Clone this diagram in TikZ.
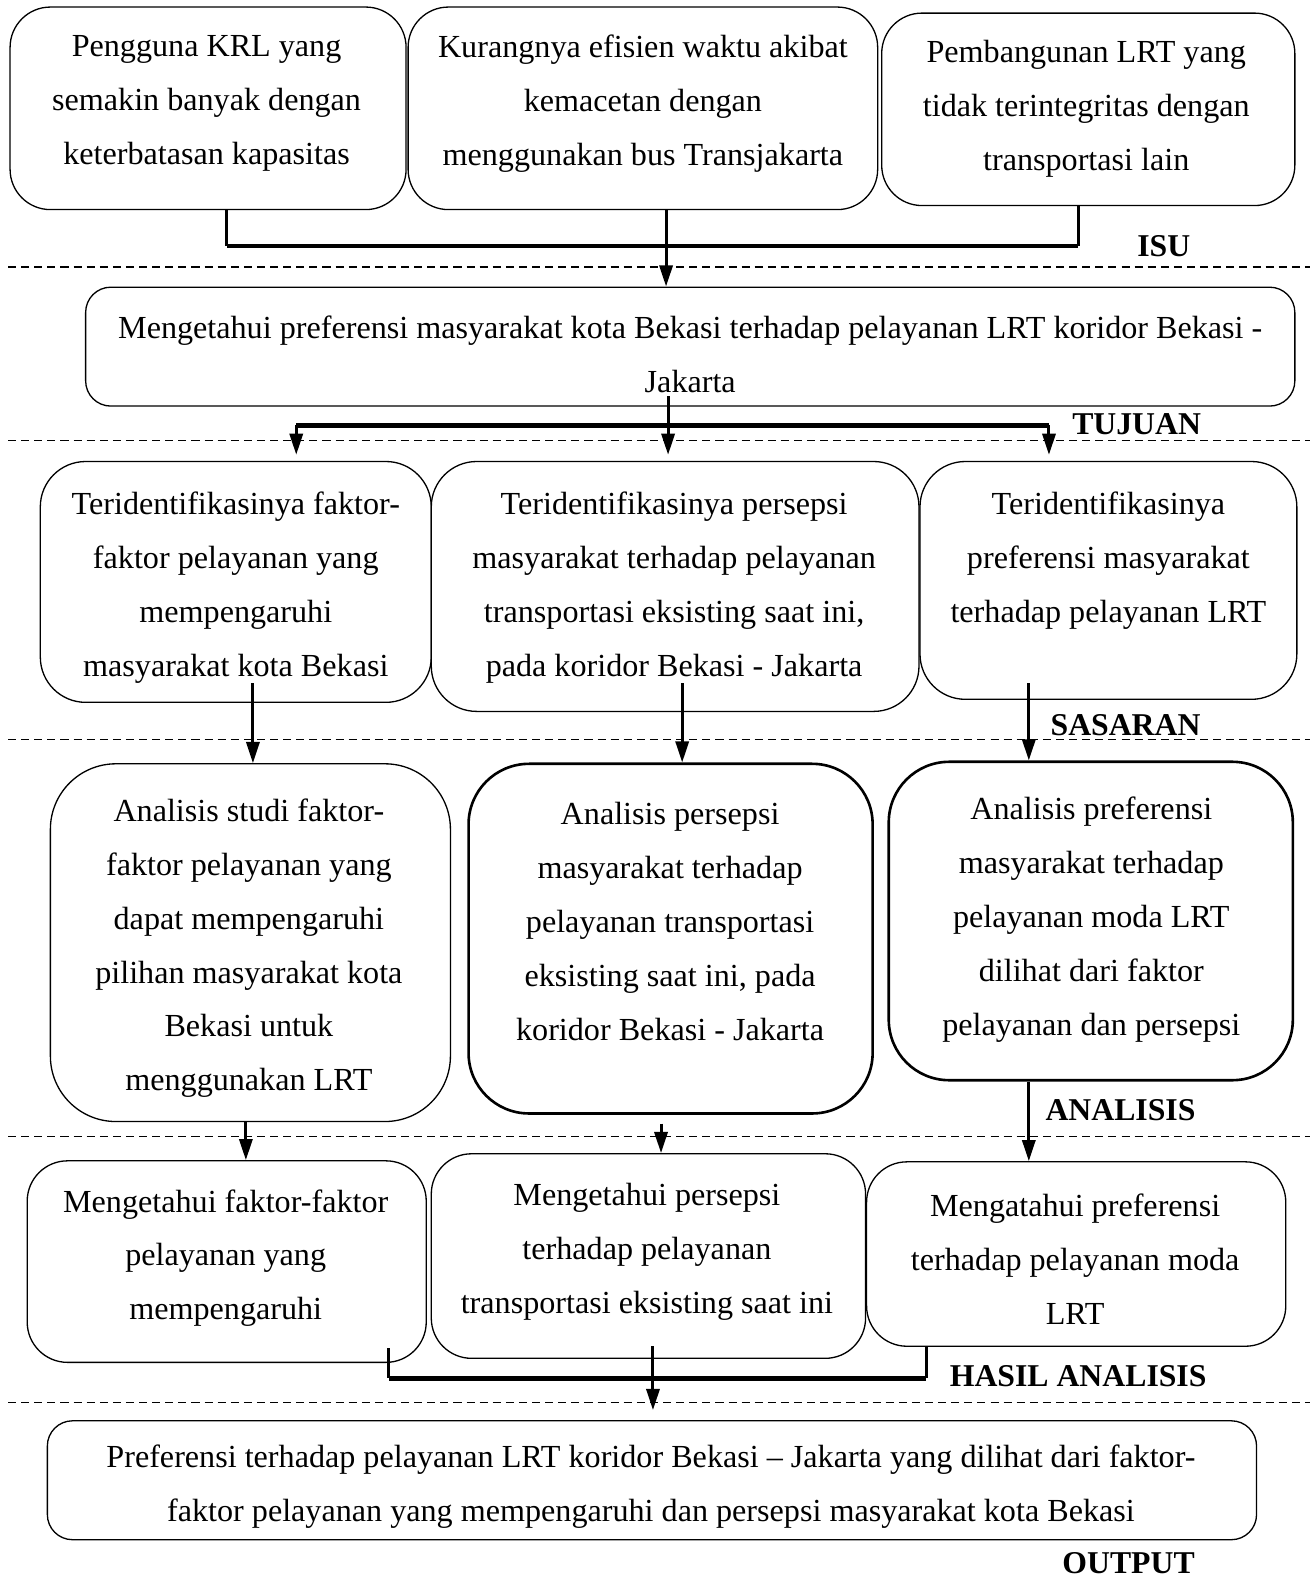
\documentclass[tikz,border=0pt]{standalone}
\usepackage{fontspec}
\setmainfont{Liberation Serif}
\usetikzlibrary{arrows.meta,calc}
\begin{document}
\begin{tikzpicture}[x=1pt,y=-1pt,
 box/.style={draw, line width=1.3pt, rounded corners=#1, inner sep=0pt},
 box/.default=40pt,
 heavybox/.style={box=#1, line width=2.6pt},
 heavybox/.default=60pt,
 txt/.style={align=center, font=\fontsize{31.9}{53.5}\selectfont, inner sep=0pt, yshift=-3pt},
 lab/.style={font=\fontsize{31.5}{36}\selectfont\bfseries, inner sep=0pt},
 conn/.style={line width=3pt, line join=miter},
 bar/.style={line width=4.5pt},
 arr/.style={line width=3pt, -{Triangle[length=21pt,width=13pt]}},
 sep/.style={line width=1.5pt, dash pattern=on 8pt off 5pt}]
\useasboundingbox (0,0) rectangle (1302,1568);

% separators
\draw[sep] (8,265) -- (1300,265);
\draw[sep] (8,437) -- (1300,437);
\draw[sep] (8,734) -- (1300,734);
\draw[sep] (8,1128) -- (1300,1128);
\draw[sep] (8,1392) -- (1300,1392);

% row A
\node[box, minimum width=393pt, minimum height=201pt] (a1) at (206.5,107.5) {};
\node[box, minimum width=466pt, minimum height=201pt] (a2) at (638,107.5) {};
\node[box, minimum width=410pt, minimum height=191pt] (a3) at (1080,108.5) {};
\node[txt] (ta1) at (205,99.5) {Pengguna KRL yang\\semakin banyak dengan\\keterbatasan kapasitas};
\node[txt] (ta2) at (638,99.5) {Kurangnya efisien waktu akibat\\kemacetan dengan\\menggunakan bus Transjakarta};
\node[txt] (ta3) at (1078,105) {Pembangunan LRT yang\\tidak terintegritas dengan\\transportasi lain};

% B
\node[box=25pt, minimum width=1200pt, minimum height=118pt] (b) at (685,344) {};
\node[txt] (tb) at (685,348.5) {Mengetahui preferensi masyarakat kota Bekasi terhadap pelayanan LRT koridor Bekasi -\\Jakarta};

% row C
\node[box=45pt, minimum width=388pt, minimum height=239pt] (c1) at (234,577.5) {};
\node[box=45pt, minimum width=484pt, minimum height=248pt] (c2) at (670,582) {};
\node[box=45pt, minimum width=374pt, minimum height=236pt] (c3) at (1100,576) {};
\node[txt] (tc1) at (234,580) {Teridentifikasinya faktor-\\faktor pelayanan yang\\mempengaruhi\\masyarakat kota Bekasi};
\node[txt] (tc2) at (669,580) {Teridentifikasinya persepsi\\masyarakat terhadap pelayanan\\transportasi eksisting saat ini,\\pada koridor Bekasi - Jakarta};
\node[txt] (tc3) at (1100,553.5) {Teridentifikasinya\\preferensi masyarakat\\terhadap pelayanan LRT};

% row D
\node[box=65pt, minimum width=397pt, minimum height=355pt] (d1) at (248.5,935.5) {};
\node[heavybox, minimum width=401pt, minimum height=347pt] (d2) at (665.5,931.5) {};
\node[heavybox, minimum width=401pt, minimum height=316pt] (d3) at (1082.5,914) {};
\node[txt] (td1) at (247,938) {Analisis studi faktor-\\faktor pelayanan yang\\dapat mempengaruhi\\pilihan masyarakat kota\\Bekasi untuk\\menggunakan LRT};
\node[txt] (td2) at (665,911.5) {Analisis persepsi\\masyarakat terhadap\\pelayanan transportasi\\eksisting saat ini, pada\\koridor Bekasi - Jakarta};
\node[txt] (td3) at (1083,909.5) {Analisis preferensi\\masyarakat terhadap\\pelayanan moda LRT\\dilihat dari faktor\\pelayanan dan persepsi};

% row E
\node[box, minimum width=396pt, minimum height=200pt] (e1) at (225,1252) {};
\node[box, minimum width=431pt, minimum height=203pt] (e2) at (643.5,1246.5) {};
\node[box, minimum width=416pt, minimum height=183pt] (e3) at (1068,1244.5) {};
\node[txt] (te1) at (224,1245.5) {Mengetahui faktor-faktor\\pelayanan yang\\mempengaruhi};
\node[txt] (te2) at (642,1239) {Mengetahui persepsi\\terhadap pelayanan\\transportasi eksisting saat ini};
\node[txt] (te3) at (1067,1246.5) {Mengatahui preferensi\\terhadap pelayanan moda\\LRT};

% F
\node[box=25pt, minimum width=1200pt, minimum height=118pt] (f) at (647,1469) {};
\node[txt] (tf) at (646,1472) {Preferensi terhadap pelayanan LRT koridor Bekasi -- Jakarta yang dilihat dari faktor-\\faktor pelayanan yang mempengaruhi dan persepsi masyarakat kota Bekasi};

% labels
\node[lab] (lisu) at (1155,244) {ISU};
\node[lab] (ltuj) at (1128,421) {TUJUAN};
\node[lab] (lsas) at (1117,720) {SASARAN};
\node[lab] (lana) at (1112,1102) {ANALISIS};
\node[lab] (lhas) at (1070,1366) {HASIL ANALISIS};
\node[lab] (lout) at (1120,1551) {OUTPUT};

% connectors A -> B
\coordinate (j1) at (225,244);
\coordinate (j3) at (1070,244);
\coordinate (k2) at (661,0);
\draw[conn] (a1.south -| j1) -- (j1);
\draw[conn] (a3.south -| j3) -- (j3);
\draw[bar] (j1) -- (j3);
\draw[arr] (a2.south -| k2) -- (b.north -| k2);

% B -> C
\coordinate (bs) at (663,393);
\coordinate (tl) at (294,422);
\coordinate (tr) at (1041,422);
\draw[arr, shorten >=6pt] (bs) -- (c2.north -| bs);
\draw[bar] (tl) -- (tr);
\draw[arr, shorten >=6pt] (tl) -- (c1.north -| tl);
\draw[arr, shorten >=6pt] (tr) -- (c3.north -| tr);

% C -> D
\coordinate (cs1) at (251,678);
\coordinate (cs2) at (677,678);
\coordinate (cs3) at (1021,678);
\draw[arr] (cs1) -- (d1.north -| cs1);
\draw[arr] (cs2) -- (d2.north -| cs2);
\draw[arr] (cs3) -- (d3.north -| cs3);

% D -> E
\coordinate (ds1) at (244,0);
\coordinate (ds2) at (656,1115);
\coordinate (ds3) at (1021,0);
\draw[arr] (d1.south -| ds1) -- (e1.north -| ds1);
\draw[arr] (ds2) -- (e2.north -| ds2);
\draw[arr] (d3.south -| ds3) -- (e3.north -| ds3);

% E -> F
\coordinate (es1) at (386,1338);
\coordinate (h1) at (386,1368);
\coordinate (h3) at (919,1368);
\coordinate (es2) at (648,1336);
\draw[conn] (es1) -- (h1);
\draw[conn] (e3.south -| h3) -- (h3);
\draw[bar] (h1) -- (h3);
\draw[arr, shorten >=10pt] (es2) -- (f.north -| es2);
\end{tikzpicture}
\end{document}
